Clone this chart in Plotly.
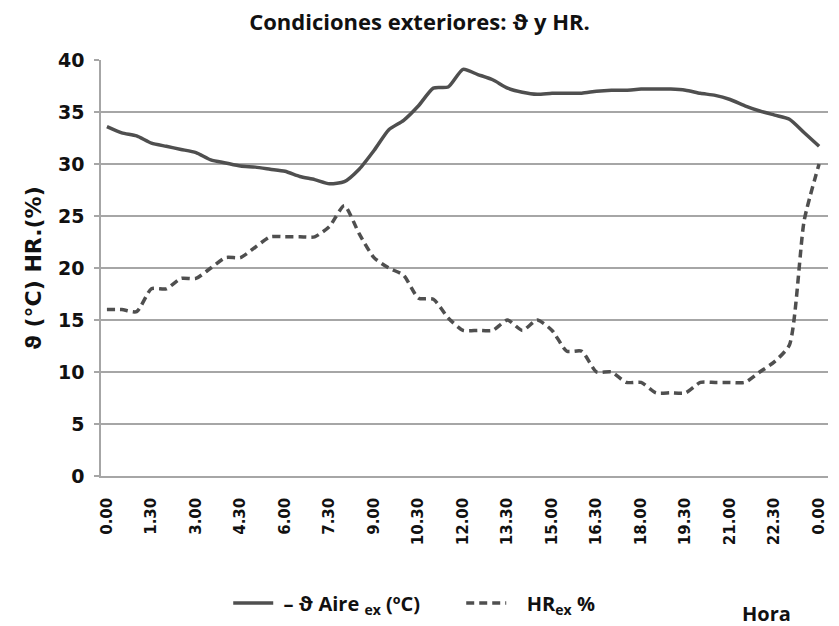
import plotly.graph_objects as go

# Half-hour steps from 0.00 to 0.00 (next day)
horas = [0, 0.5, 1, 1.5, 2, 2.5, 3, 3.5, 4, 4.5, 5, 5.5, 6, 6.5, 7, 7.5, 8, 8.5,
         9, 9.5, 10, 10.5, 11, 11.5, 12, 12.5, 13, 13.5, 14, 14.5, 15, 15.5, 16,
         16.5, 17, 17.5, 18, 18.5, 19, 19.5, 20, 20.5, 21, 21.5, 22, 22.5, 23,
         23.5, 24]

temp_aire = [33.6, 33.0, 32.7, 32.0, 31.7, 31.4, 31.1, 30.4, 30.1, 29.8, 29.7,
             29.5, 29.3, 28.8, 28.5, 28.1, 28.3, 29.5, 31.3, 33.3, 34.2, 35.6,
             37.3, 37.4, 39.1, 38.6, 38.1, 37.3, 36.9, 36.7, 36.8, 36.8, 36.8,
             37.0, 37.1, 37.1, 37.2, 37.2, 37.2, 37.1, 36.8, 36.6, 36.2, 35.6,
             35.1, 34.7, 34.3, 33.0, 31.7]

hr = [16, 16, 15.8, 18, 18, 19, 19, 20, 21, 21, 22, 23, 23, 23, 23, 24, 26,
      23.3, 21, 20, 19.3, 17.1, 17, 15.2, 14, 14, 14, 15, 14, 15, 14, 12, 12,
      10, 10, 9, 9, 8, 8, 8, 9, 9, 9, 9, 10, 11, 12.6, 24.6, 30]

tick_horas = [0, 1.5, 3, 4.5, 6, 7.5, 9, 10.5, 12, 13.5, 15, 16.5, 18, 19.5,
              21, 22.5, 24]
tick_labels = ["0.00", "1.30", "3.00", "4.30", "6.00", "7.30", "9.00", "10.30",
               "12.00", "13.30", "15.00", "16.30", "18.00", "19.30", "21.00",
               "22.30", "0.00"]

line_color = "#4f4f4f"
grid_color = "#a6a6a6"
text_color = "#111111"

fig = go.Figure()
fig.add_trace(go.Scatter(
    x=horas, y=temp_aire, mode="lines",
    name="\u00a0–\u00a0ϑ Aire\u00a0<sub>ex</sub>\u00a0(ºC)",
    line=dict(color=line_color, width=3.5, shape="spline", smoothing=0.6),
))
fig.add_trace(go.Scatter(
    x=horas, y=hr, mode="lines",
    name="\u00a0\u00a0\u00a0HR<sub>ex</sub>\u00a0%",
    line=dict(color=line_color, width=3.5, dash="8px,5px",
              shape="spline", smoothing=0.6),
))

fig.update_layout(
    width=839, height=626,
    margin=dict(l=101, r=11, t=60, b=150, autoexpand=False),
    paper_bgcolor="white", plot_bgcolor="white",
    title=dict(text="Condiciones exteriores: ϑ y HR.",
               x=0.5, xanchor="center", y=0.965, yanchor="middle",
               font=dict(family="Open Sans", size=22, color=text_color,
                         weight="bold")),
    showlegend=True,
    legend=dict(orientation="h", x=0.175, xanchor="left", y=-0.305,
                yanchor="middle", font=dict(family="Open Sans", size=20,
                                            color=text_color, weight="bold"),
                itemwidth=40, entrywidth=178, entrywidthmode="pixels",
                bgcolor="rgba(0,0,0,0)"),
    xaxis=dict(
        range=[-0.2, 24.3], automargin=False,
        tickmode="array", tickvals=tick_horas, ticktext=tick_labels,
        tickangle=-90, showgrid=False, zeroline=False,
        showline=True, linecolor=grid_color, linewidth=1.5,
        ticks="", ticklabelstandoff=14,
        tickfont=dict(family="DejaVu Sans", size=15, color=text_color,
                      weight="bold"),
    ),
    yaxis=dict(
        range=[0, 40], tickmode="array", automargin=False,
        tickvals=[0, 5, 10, 15, 20, 25, 30, 35, 40],
        showgrid=True, gridcolor=grid_color, gridwidth=1.5,
        zeroline=False, showline=True, linecolor=grid_color, linewidth=1.5,
        ticks="outside", ticklen=5, tickcolor=grid_color, tickwidth=1.5,
        ticklabelstandoff=6,
        tickfont=dict(family="DejaVu Sans", size=19, color=text_color,
                      weight="bold"),
        title=dict(text="ϑ (°C) HR.(%)", standoff=10,
                   font=dict(family="DejaVu Sans", size=22, color=text_color,
                             weight="bold")),
    ),
    annotations=[dict(text="Hora", xref="paper", yref="paper",
                      x=0.916, y=-0.33, xanchor="center", yanchor="middle",
                      showarrow=False,
                      font=dict(family="Open Sans", size=20, color=text_color,
                                weight="bold"))],
)

fig.write_html("out.html", config={"displayModeBar": False},
               post_script="document.body.style.margin='0';")
